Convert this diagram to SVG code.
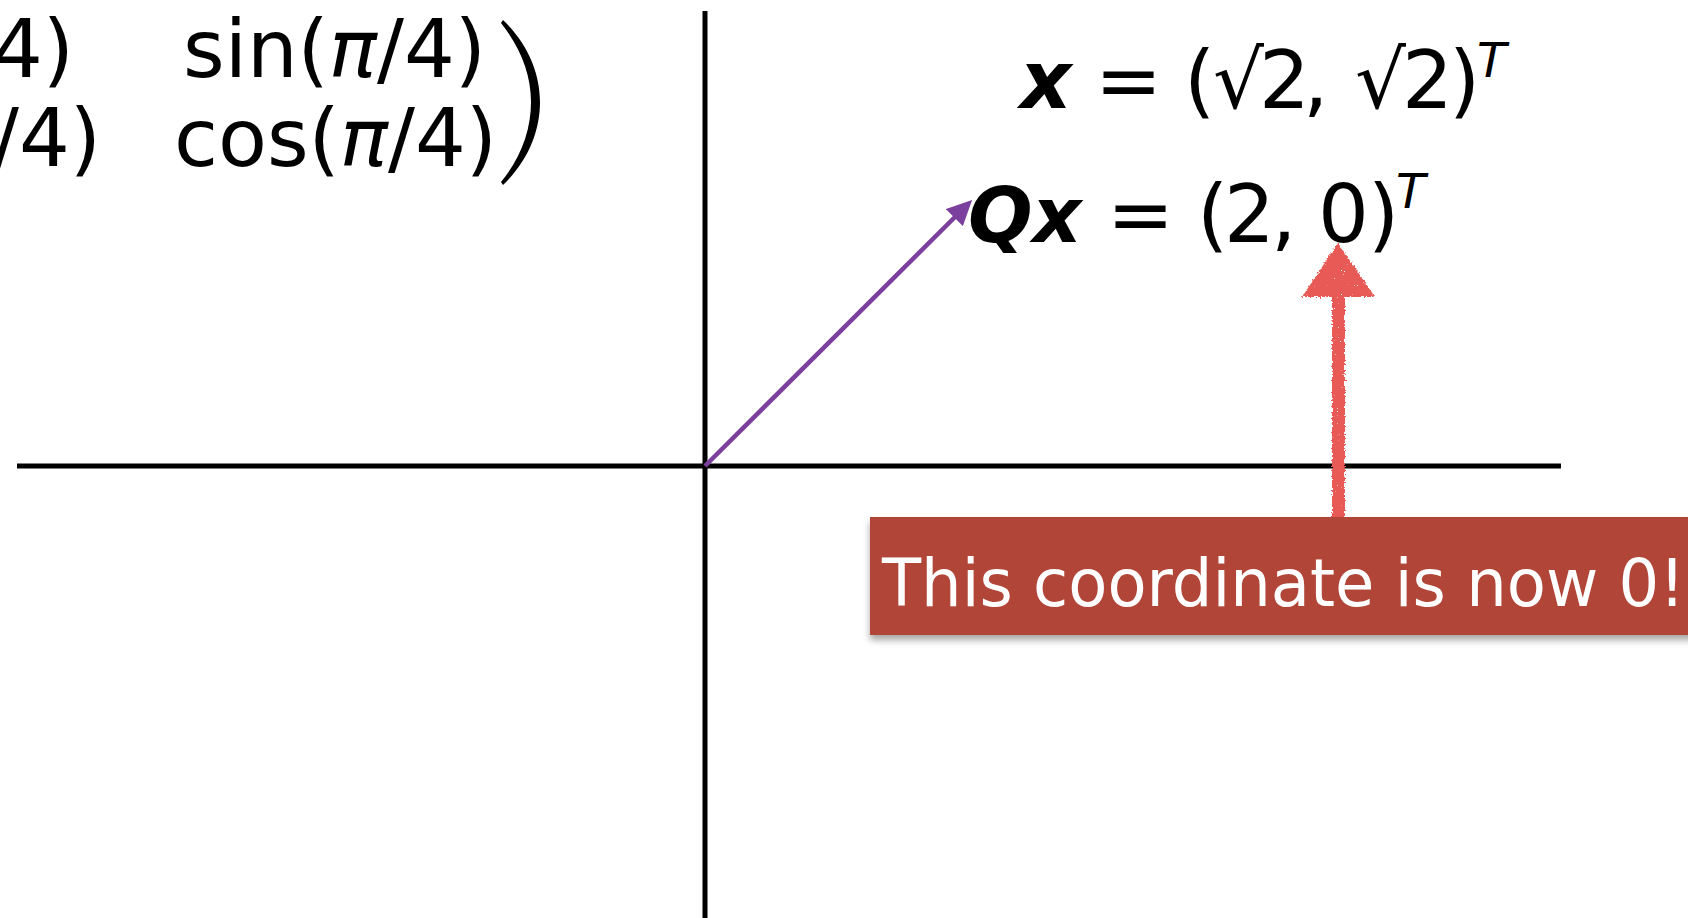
<svg xmlns="http://www.w3.org/2000/svg" width="1688" height="918" viewBox="0 0 1688 918">
<style>
.m{font-family:"DejaVu Sans","Liberation Sans",sans-serif;font-size:80px;fill:#000}
.bi{font-weight:bold;font-style:italic}
.it{font-style:italic}
.sup{font-size:48px;font-style:italic}
.axis{stroke:#000;stroke-width:5;fill:none}
.lbl{font-family:"DejaVu Sans","Liberation Sans",sans-serif;font-size:66px;fill:#fff}
</style>
<defs>
<marker id="ah" markerWidth="26" markerHeight="24" refX="15" refY="12" orient="auto" markerUnits="userSpaceOnUse">
<path d="M0,0 L25,12 L0,24 Z" fill="#7b3f9e"/>
</marker>
<filter id="shadow" x="-5%" y="-20%" width="110%" height="150%">
<feDropShadow dx="0" dy="5" stdDeviation="3.5" flood-color="#000" flood-opacity="0.35"/>
</filter>
<filter id="crayon" x="-20%" y="-5%" width="140%" height="110%">
<feTurbulence type="fractalNoise" baseFrequency="0.5" numOctaves="2" seed="3" result="n"/>
<feDisplacementMap in="SourceGraphic" in2="n" scale="5" xChannelSelector="R" yChannelSelector="G" result="d"/>
<feTurbulence type="fractalNoise" baseFrequency="0.7" numOctaves="1" seed="7" result="n2"/>
<feColorMatrix in="n2" type="matrix" values="0 0 0 0 0  0 0 0 0 0  0 0 0 0 0  0 0 0 -20 15.5" result="m"/>
<feComposite in="d" in2="m" operator="in"/>
</filter>
</defs>
<rect width="1688" height="918" fill="#fff"/>
<g id="axes">
<line class="axis" x1="705" y1="11" x2="705" y2="918"/>
<line class="axis" x1="17" y1="466" x2="1561" y2="466"/>
</g>
<g id="matrix">
<text class="m" x="74" y="77" text-anchor="end">4)</text>
<text class="m" x="101" y="166" text-anchor="end">/4)</text>
<text class="m" x="183" y="77">sin(<tspan class="it">π</tspan>/4)</text>
<text class="m" x="174" y="166">cos(<tspan class="it">π</tspan>/4)</text>
<path d="M503,20 C529,45 540,75 540,102 C540,130 529,160 503,185 L501,182 C521,158 531,130 531,102 C531,75 521,48 501,23 Z" fill="#000"/>
</g>
<g id="eq-x">
<text class="m" y="108"><tspan class="bi" x="1020">x</tspan><tspan x="1095">=</tspan><tspan x="1184">(</tspan><tspan x="1213">√</tspan><tspan x="1259">2</tspan><tspan x="1303">,</tspan><tspan x="1355">√</tspan><tspan x="1402">2</tspan><tspan x="1449">)</tspan></text>
<text class="m sup" x="1477" y="77">T</text>
</g>
<g id="eq-qx">
<text class="m" y="242"><tspan class="bi" x="968" font-size="76">Qx</tspan><tspan x="1107">=</tspan><tspan x="1197">(</tspan><tspan x="1224">2</tspan><tspan x="1271">,</tspan><tspan x="1318">0</tspan><tspan x="1368">)</tspan></text>
<text class="m sup" x="1396" y="208">T</text>
</g>
<g id="connectors">
<line x1="705" y1="466" x2="965" y2="207" stroke="#7b3f9e" stroke-width="4.5" marker-end="url(#ah)"/>
<g filter="url(#crayon)" fill="#e85a55">
<rect x="1332" y="290" width="13" height="229"/>
<path d="M1338,243 L1375,297 L1302,297 Z"/>
</g>
</g>
<g id="note">
<rect x="870" y="517" width="830" height="118" fill="#b04537" filter="url(#shadow)"/>
<text class="lbl" x="882" y="606" textLength="803" lengthAdjust="spacingAndGlyphs">This coordinate is now 0!</text>
</g>
</svg>
